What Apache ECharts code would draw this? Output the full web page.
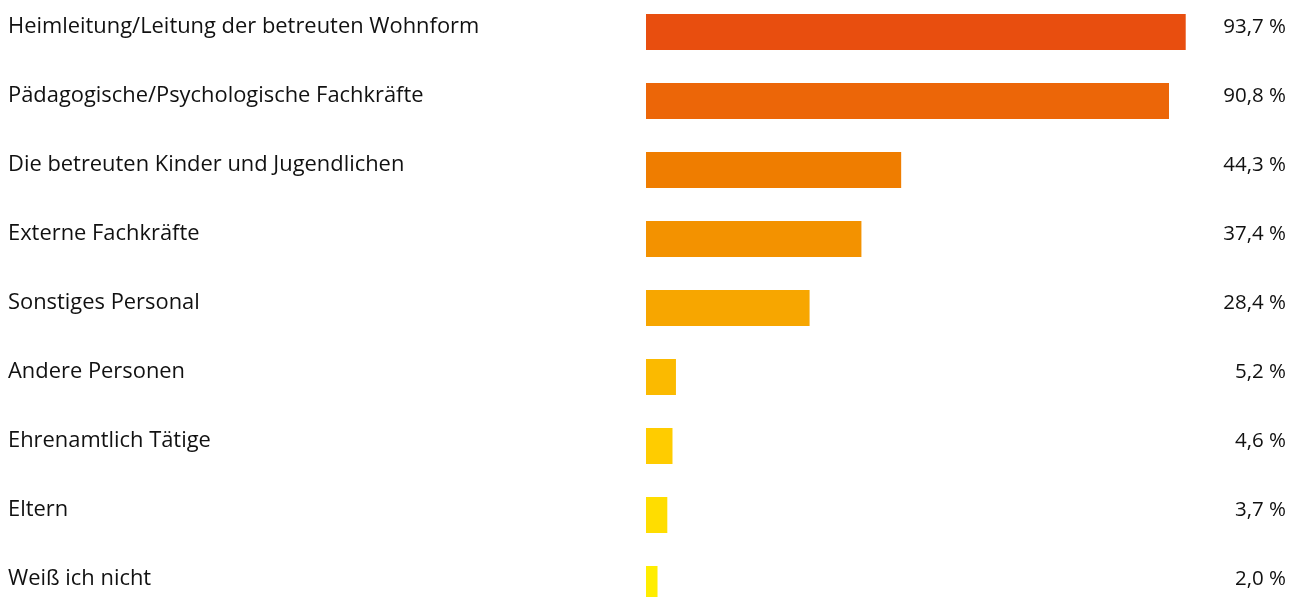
<!DOCTYPE html>
<html>
<head>
<meta charset="utf-8">
<script src="https://cdn.jsdelivr.net/npm/echarts@6/dist/echarts.min.js"></script>
<style>
html,body{margin:0;padding:0;background:#fff;}
#chart{width:1300px;height:597px;}
</style>
</head>
<body>
<div id="chart"></div>
<script>
const categories = [
  "Heimleitung/Leitung der betreuten Wohnform",
  "Pädagogische/Psychologische Fachkräfte",
  "Die betreuten Kinder und Jugendlichen",
  "Externe Fachkräfte",
  "Sonstiges Personal",
  "Andere Personen",
  "Ehrenamtlich Tätige",
  "Eltern",
  "Weiß ich nicht"
];
const values = [93.7, 90.8, 44.3, 37.4, 28.4, 5.2, 4.6, 3.7, 2.0];
const colors = ["#E84E0F", "#EC6608", "#EF7D00", "#F39200", "#F7A600", "#FBBA00", "#FFCC00", "#FFDD00", "#FFED00"];

const valueLabels = values.map(v => v.toFixed(1).replace('.', ',') + ' %');
const font = "'Open Sans', sans-serif";

const chart = echarts.init(document.getElementById('chart'), null, {renderer: 'canvas'});
chart.setOption({
  animation: false,
  backgroundColor: '#ffffff',
  grid: {left: 646, right: 78, top: -2.5, height: 621, containLabel: false, outerBoundsMode: 'none'},
  xAxis: {type: 'value', min: 0, max: 100, show: false},
  yAxis: [
    {
      type: 'category', data: categories, inverse: true, position: 'left',
      axisLine: {show: false}, axisTick: {show: false}, splitLine: {show: false},
      axisLabel: {align: 'left', verticalAlign: 'bottom', lineHeight: 10, margin: 638, fontFamily: font, fontSize: 21.9, color: '#111111'}
    },
    {
      type: 'category', data: valueLabels, inverse: true, position: 'right',
      axisLine: {show: false}, axisTick: {show: false}, splitLine: {show: false},
      axisLabel: {align: 'right', verticalAlign: 'bottom', lineHeight: 10, margin: 64, fontFamily: font, fontSize: 20.5, color: '#111111'}
    }
  ],
  series: [{
    type: 'bar',
    yAxisIndex: 0,
    barWidth: 36,
    data: values.map((v, i) => ({value: v, itemStyle: {color: colors[i]}}))
  }]
});
</script>
</body>
</html>
